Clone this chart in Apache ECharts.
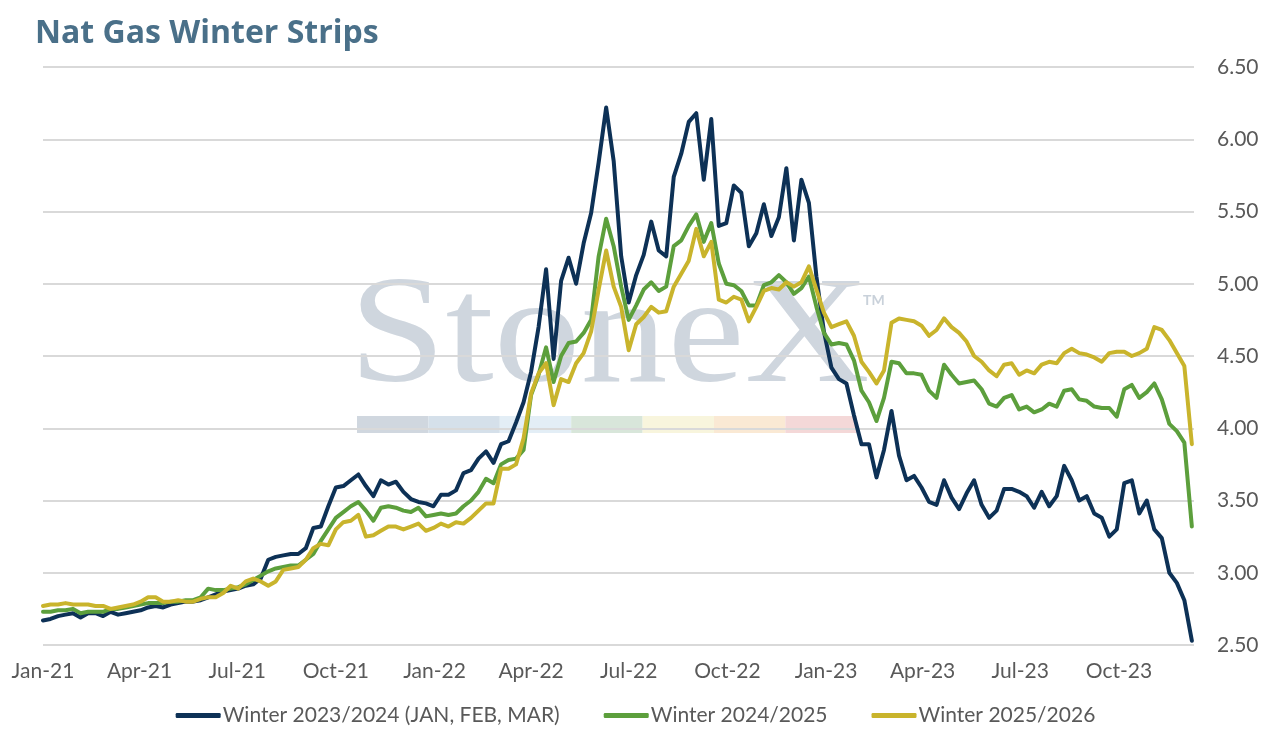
<!DOCTYPE html>
<html>
<head>
<meta charset="utf-8">
<script src="https://cdn.jsdelivr.net/npm/echarts@6/dist/echarts.min.js"></script>
<style>
  html, body { margin: 0; padding: 0; background: #fff; }
  #chart { width: 1271px; height: 734px; }
</style>
</head>
<body>
<div id="chart"></div>
<script>
// weekly (Friday) closes, first week 2021-01-01
const firstWeek = '2021-01-01';

const winter2324 = [
  2.67, 2.68, 2.70, 2.71, 2.72, 2.69, 2.72, 2.72, 2.70, 2.73,
  2.71, 2.72, 2.73, 2.74, 2.76, 2.77, 2.76, 2.78, 2.79, 2.80,
  2.80, 2.81, 2.83, 2.85, 2.87, 2.88, 2.89, 2.91, 2.92, 2.96,
  3.09, 3.11, 3.12, 3.13, 3.13, 3.17, 3.31, 3.32, 3.46, 3.59,
  3.60, 3.64, 3.68, 3.60, 3.53, 3.64, 3.61, 3.63, 3.56, 3.51,
  3.49, 3.48, 3.46, 3.54, 3.54, 3.57, 3.69, 3.71, 3.79, 3.84,
  3.76, 3.89, 3.91, 4.04, 4.18, 4.39, 4.70, 5.10, 4.48, 5.02,
  5.18, 5.00, 5.28, 5.49, 5.84, 6.22, 5.85, 5.19, 4.87, 5.06,
  5.20, 5.43, 5.23, 5.19, 5.74, 5.90, 6.12, 6.18, 5.72, 6.14,
  5.40, 5.42, 5.68, 5.63, 5.26, 5.35, 5.55, 5.33, 5.46, 5.80,
  5.30, 5.72, 5.56, 5.05, 4.67, 4.42, 4.34, 4.31, 4.09, 3.89,
  3.89, 3.66, 3.85, 4.12, 3.81, 3.64, 3.67, 3.59, 3.49, 3.47,
  3.64, 3.52, 3.44, 3.55, 3.64, 3.47, 3.38, 3.43, 3.58, 3.58,
  3.56, 3.53, 3.45, 3.56, 3.46, 3.53, 3.74, 3.64, 3.50, 3.53,
  3.41, 3.38, 3.25, 3.30, 3.62, 3.64, 3.41, 3.50, 3.30, 3.24,
  3.00, 2.93, 2.81, 2.53
];

const winter2425 = [
  2.73, 2.73, 2.74, 2.74, 2.75, 2.72, 2.73, 2.73, 2.73, 2.75,
  2.75, 2.76, 2.77, 2.78, 2.79, 2.79, 2.79, 2.80, 2.80, 2.81,
  2.81, 2.83, 2.89, 2.88, 2.88, 2.89, 2.90, 2.92, 2.95, 2.98,
  3.01, 3.03, 3.04, 3.05, 3.05, 3.09, 3.13, 3.22, 3.30, 3.38,
  3.42, 3.46, 3.49, 3.43, 3.36, 3.45, 3.46, 3.45, 3.43, 3.42,
  3.45, 3.39, 3.40, 3.41, 3.40, 3.41, 3.46, 3.50, 3.56, 3.65,
  3.62, 3.75, 3.78, 3.79, 3.85, 4.23, 4.37, 4.56, 4.32, 4.50,
  4.59, 4.60, 4.66, 4.75, 5.19, 5.45, 5.26, 4.98, 4.75, 4.85,
  4.96, 5.01, 4.95, 4.98, 5.26, 5.30, 5.40, 5.48, 5.29, 5.42,
  5.14, 5.00, 4.99, 4.95, 4.85, 4.85, 4.99, 5.01, 5.06, 5.01,
  4.93, 4.97, 5.05, 4.84, 4.66, 4.58, 4.59, 4.58, 4.47, 4.26,
  4.18, 4.05, 4.21, 4.46, 4.45, 4.38, 4.38, 4.37, 4.26, 4.21,
  4.44, 4.37, 4.31, 4.32, 4.33, 4.27, 4.17, 4.15, 4.21, 4.23,
  4.13, 4.15, 4.11, 4.13, 4.17, 4.15, 4.26, 4.27, 4.20, 4.19,
  4.15, 4.14, 4.14, 4.08, 4.27, 4.30, 4.21, 4.25, 4.31, 4.20,
  4.03, 3.98, 3.90, 3.32
];

const winter2526 = [
  2.77, 2.78, 2.78, 2.79, 2.78, 2.78, 2.78, 2.77, 2.77, 2.75,
  2.76, 2.77, 2.78, 2.80, 2.83, 2.83, 2.80, 2.80, 2.81, 2.80,
  2.80, 2.82, 2.83, 2.83, 2.86, 2.91, 2.89, 2.94, 2.96, 2.94,
  2.91, 2.94, 3.02, 3.03, 3.04, 3.09, 3.17, 3.20, 3.19, 3.30,
  3.35, 3.36, 3.40, 3.25, 3.26, 3.29, 3.32, 3.32, 3.30, 3.32,
  3.34, 3.29, 3.31, 3.34, 3.32, 3.35, 3.34, 3.38, 3.43, 3.48,
  3.48, 3.72, 3.72, 3.75, 3.93, 4.24, 4.38, 4.45, 4.16, 4.34,
  4.32, 4.45, 4.52, 4.67, 4.96, 5.23, 4.98, 4.84, 4.54, 4.72,
  4.77, 4.84, 4.80, 4.81, 4.98, 5.07, 5.16, 5.38, 5.19, 5.29,
  4.89, 4.87, 4.91, 4.89, 4.74, 4.84, 4.95, 4.97, 4.96, 5.01,
  4.98, 5.01, 5.12, 4.96, 4.80, 4.70, 4.72, 4.74, 4.64, 4.46,
  4.39, 4.31, 4.40, 4.73, 4.76, 4.75, 4.74, 4.71, 4.64, 4.68,
  4.76, 4.70, 4.66, 4.60, 4.50, 4.46, 4.40, 4.36, 4.44, 4.45,
  4.37, 4.40, 4.38, 4.44, 4.46, 4.45, 4.52, 4.55, 4.52, 4.51,
  4.49, 4.46, 4.52, 4.53, 4.53, 4.50, 4.52, 4.55, 4.70, 4.68,
  4.61, 4.52, 4.43, 3.89
];

const seriesNames = ['Winter 2023/2024 (JAN, FEB, MAR)', 'Winter 2024/2025', 'Winter 2025/2026'];
const seriesColors = ['#0d3156', '#5c9f3c', '#c9b42c'];

const tickDates = ['2021-01-01', '2021-04-01', '2021-07-01', '2021-10-01',
                   '2022-01-01', '2022-04-01', '2022-07-01', '2022-10-01',
                   '2023-01-01', '2023-04-01', '2023-07-01', '2023-10-01'];
const tickLabels = ['Jan-21', 'Apr-21', 'Jul-21', 'Oct-21', 'Jan-22', 'Apr-22',
                    'Jul-22', 'Oct-22', 'Jan-23', 'Apr-23', 'Jul-23', 'Oct-23'];

const washColors = ['#d0d7df', '#d5e0ea', '#e3eef6', '#d8e6da', '#f8f5dd', '#fae9d4', '#f4d8d8'];

const DAY = 86400000;
const start = Date.parse(firstWeek);
const weeks = winter2324.map((v, i) => start + i * 7 * DAY);
const tickTimes = tickDates.map(d => Date.parse(d));

function pairs(vals) {
    return vals.map((v, i) => [weeks[i], v]);
}

const chart = echarts.init(document.getElementById('chart'));

// faint logo behind the plot
let logo = [{
    type: 'text',
    x: 349, y: 341, scaleX: 1.135, z: -10,
    style: {
        text: 'StoneX', fill: '#cfd6de',
        font: '153px "Liberation Serif"',
        textAlign: 'left', textVerticalAlign: 'middle'
    }
}, {
    type: 'text',
    x: 863, y: 300, z: -10,
    style: {
        text: 'TM', fill: '#c9d1da',
        font: 'bold 14px Lato',
        textAlign: 'left', textVerticalAlign: 'middle'
    }
}];
washColors.forEach((c, i) => {
    logo.push({
        type: 'rect', z: -10,
        shape: { x: 357 + i * 71.4, y: 416, width: 71.4, height: 17 },
        style: { fill: c }
    });
});

const option = {
    backgroundColor: '#fff',
    animation: false,
    title: {
        text: 'Nat Gas Winter Strips',
        left: 35, top: 18, padding: 0,
        textStyle: { fontFamily: 'Open Sans', fontWeight: 'bold', fontSize: 32, color: '#4a7089' }
    },
    grid: { left: 43, right: 77, top: 67, bottom: 89 },
    legend: {
        bottom: 8, left: 'center', padding: 0,
        itemWidth: 45, itemHeight: 5, itemGap: 44,
        icon: 'roundRect',
        textStyle: { fontFamily: 'Lato', fontSize: 21, color: '#595959', padding: [0, 0, 0, -3] },
        data: seriesNames
    },
    xAxis: {
        type: 'value',
        min: start,
        max: Date.parse('2023-12-10'),
        axisLine: { show: false },
        axisTick: { show: false },
        splitLine: { show: false },
        axisLabel: {
            customValues: tickTimes,
            margin: 16,
            fontFamily: 'Lato', fontSize: 21, color: '#595959',
            formatter: function (v) {
                let k = tickTimes.indexOf(v);
                return k >= 0 ? tickLabels[k] : '';
            }
        }
    },
    yAxis: {
        type: 'value',
        position: 'right',
        min: 2.5, max: 6.5, interval: 0.5,
        axisLine: { show: false },
        axisTick: { show: false },
        splitLine: { lineStyle: { color: '#d9d9d9', width: 2 } },
        axisLabel: {
            margin: 23,
            fontFamily: 'Lato', fontSize: 21, color: '#595959',
            formatter: v => v.toFixed(2)
        }
    },
    graphic: logo,
    series: [winter2324, winter2425, winter2526].map((vals, k) => ({
        name: seriesNames[k],
        type: 'line',
        showSymbol: false,
        symbol: 'none',
        data: pairs(vals),
        itemStyle: { color: seriesColors[k] },
        lineStyle: { color: seriesColors[k], width: 4, join: 'round', cap: 'round' }
    }))
};

chart.setOption(option);
</script>
</body>
</html>
